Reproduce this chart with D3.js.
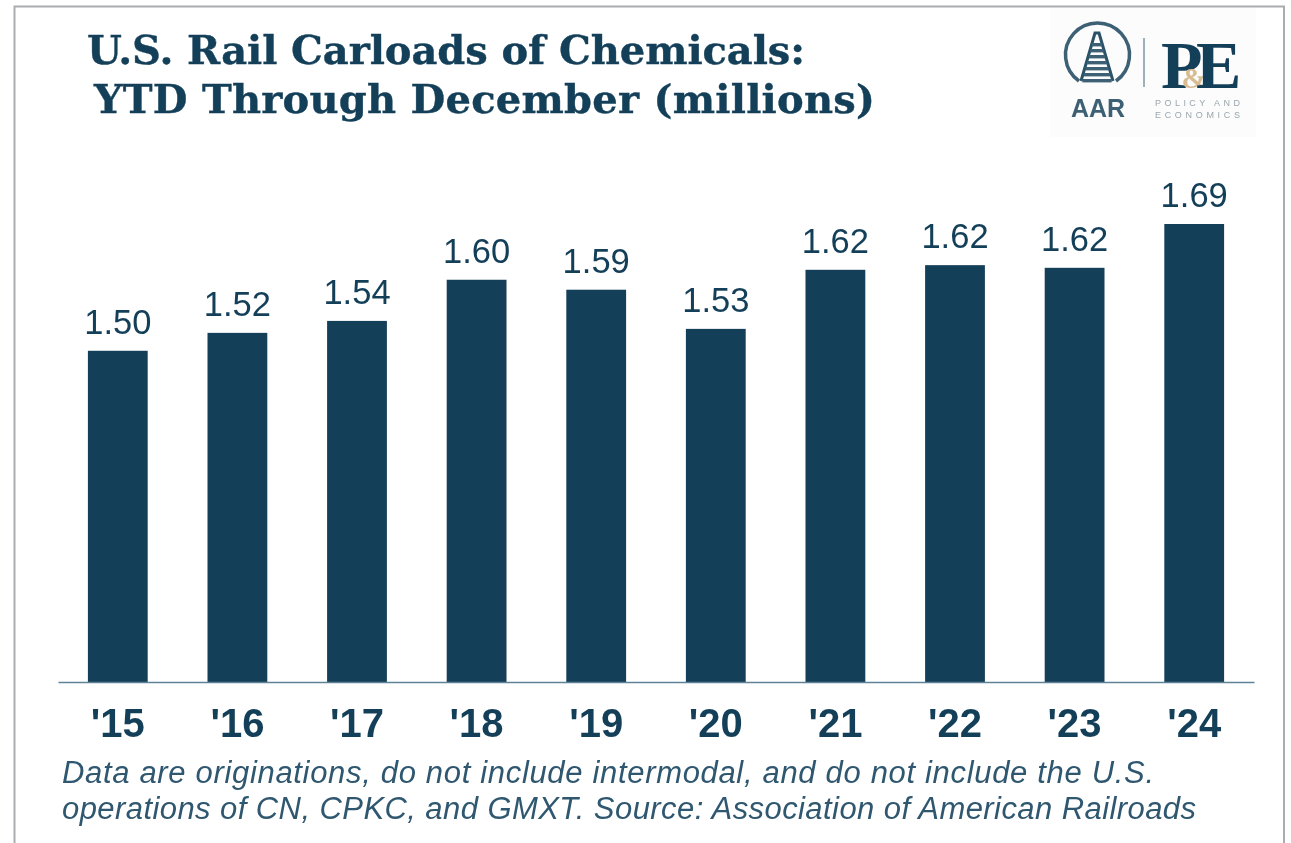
<!DOCTYPE html>
<html><head><meta charset="utf-8">
<script src="https://cdn.jsdelivr.net/npm/d3@7"></script>
<style>html,body{margin:0;padding:0;background:#fff;overflow:hidden}svg{display:block;filter:blur(0.45px)}</style>
</head><body><svg id="c" width="1291" height="843"></svg>
<script>
const titleLines = ["U.S. Rail Carloads of Chemicals:", "YTD Through December (millions)"];
const years = ["'15","'16","'17","'18","'19","'20","'21","'22","'23","'24"];
const carloads = [1.499,1.526,1.544,1.606,1.591,1.532,1.621,1.628,1.624,1.69];
const valueLabels = ["1.50","1.52","1.54","1.60","1.59","1.53","1.62","1.62","1.62","1.69"];
const noteLines = ["Data are originations, do not include intermodal, and do not include the U.S.",
                   "operations of CN, CPKC, and GMXT. Source: Association of American Railroads"];
const navy = "#143f59";

const svg = d3.select("#c");
const x = d3.scaleBand().domain(years).range([58,1254]).paddingInner(0.5).paddingOuter(0.25);
const y = d3.scaleLinear().domain([1,1.69]).range([682,224]);

// frame
svg.append("path").attr("d","M14.5,843V6.5H1284V843").attr("fill","none").attr("stroke","#a9adb0").attr("stroke-width",2);

// title
svg.append("g").selectAll("text").data(titleLines).join("text")
  .attr("x",(d,i)=>i?94:87).attr("y",(d,i)=>i?113:64)
  .attr("font-family","'DejaVu Serif'").attr("font-weight","bold").attr("font-size",40)
  .attr("textLength",(d,i)=>i?781:718).attr("lengthAdjust","spacing")
  .attr("stroke",navy).attr("stroke-width",0.4)
  .attr("fill",navy).text(d=>d);

// bars
svg.append("g").selectAll("rect").data(carloads).join("rect")
  .attr("x",(d,i)=>x(years[i])).attr("width",x.bandwidth())
  .attr("y",d=>y(d)).attr("height",d=>y.range()[0]-y(d)).attr("fill",navy);

// value labels
svg.append("g").selectAll("text").data(carloads).join("text")
  .attr("x",(d,i)=>x(years[i])+x.bandwidth()/2).attr("y",d=>y(d)-17)
  .attr("text-anchor","middle").attr("font-family","'Liberation Sans'").attr("font-size",34.5)
  .attr("fill",navy).text((d,i)=>valueLabels[i]);

// axis
const ax = svg.append("g").attr("transform","translate(0,682)").call(d3.axisBottom(x).tickSize(0).tickPadding(27));
ax.select(".domain").attr("stroke","#5f8296").attr("stroke-width",1.3);
ax.selectAll("text").attr("font-family","'Liberation Sans'").attr("font-weight","bold").attr("font-size",40).attr("fill",navy);

// footnote
svg.append("g").selectAll("text").data(noteLines).join("text")
  .attr("x",62).attr("y",(d,i)=>783+i*36)
  .attr("font-family","'Liberation Sans'").attr("font-style","italic").attr("font-size",31)
  .attr("textLength",(d,i)=>i?1134:1092).attr("lengthAdjust","spacing")
  .attr("fill","#2f5770").text(d=>d);

// logo
const logo = svg.append("g");
logo.append("rect").attr("x",1050).attr("y",8).attr("width",206).attr("height",129).attr("fill","#fcfcfc");
logo.append("path").attr("d","M1079,81 A32,32 0 1 1 1116,81").attr("fill","none").attr("stroke","#3d6075").attr("stroke-width",3.5);
logo.append("path").attr("d","M1081,81 L1095,33 L1099,33 L1113,81").attr("fill","none").attr("stroke","#2b5268").attr("stroke-width",3);
logo.append("g").selectAll("rect").data(d3.range(7)).join("rect")
  .attr("x",d=>1092-d*1.6).attr("y",d=>43+d*6).attr("width",d=>10+d*3.2).attr("height",3.4).attr("fill","#3d6075");
logo.append("text").attr("x",1098).attr("y",117).attr("text-anchor","middle").attr("font-family","'Liberation Sans'").attr("font-size",25).attr("font-weight","bold").attr("fill","#3d6075").text("AAR");
logo.append("line").attr("x1",1144).attr("x2",1144).attr("y1",38).attr("y2",87).attr("stroke","#7f98a6").attr("stroke-width",1.5);
const pe = logo.append("text").attr("x",1161).attr("y",88).attr("font-family","'Liberation Serif'").attr("font-weight","bold").attr("font-size",68).attr("fill",navy);
pe.append("tspan").text("P");
pe.append("tspan").attr("dx",-21).attr("font-size",30).attr("fill","#d9bd92").text("&");
pe.append("tspan").attr("dx",-10.5).text("E");
logo.append("text").attr("x",1155).attr("y",106).attr("font-family","'Liberation Sans'").attr("font-size",9).attr("textLength",85).attr("lengthAdjust","spacing").attr("fill","#9aa6ad").text("POLICY AND");
logo.append("text").attr("x",1155).attr("y",118).attr("font-family","'Liberation Sans'").attr("font-size",9).attr("textLength",85).attr("lengthAdjust","spacing").attr("fill","#9aa6ad").text("ECONOMICS");
</script></body></html>
